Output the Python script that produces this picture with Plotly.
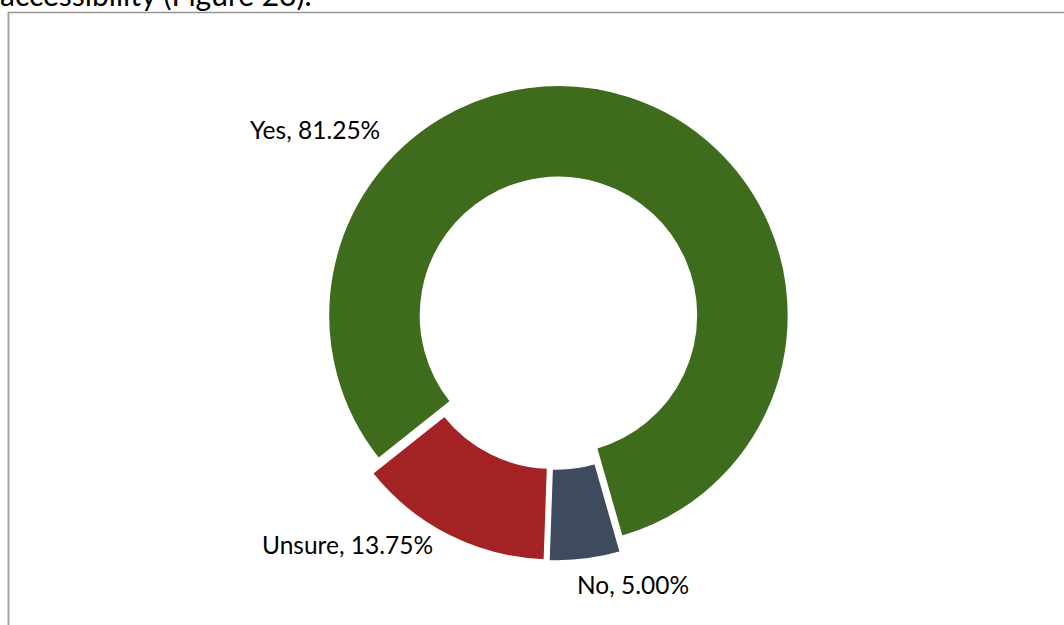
import plotly.graph_objects as go

# Survey responses (share of respondents, %)
categories = ["Yes", "No", "Unsure"]
shares = [81.25, 5.00, 13.75]
slice_colors = ["#3F6C1C", "#3E4A5E", "#A32224"]

W, H = 1064, 625

fig = go.Figure()

fig.add_trace(go.Pie(
    labels=categories,
    values=shares,
    sort=False,
    direction="clockwise",
    rotation=-128.5,
    hole=0.6,
    pull=[0.035, 0.035, 0.035],
    marker=dict(colors=slice_colors, line=dict(color="white", width=1.5)),
    textinfo="none",
    hoverinfo="label+percent",
    showlegend=False,
    domain=dict(x=[318 / W, 794 / W], y=[1 - 561 / H, 1 - 85 / H]),
))

# Category labels with their shares
label_pos = {"Yes": (315, 129), "No": (633, 584), "Unsure": (347, 544)}
for cat, val in zip(categories, shares):
    px, py = label_pos[cat]
    fig.add_annotation(
        x=px / W, y=1 - py / H, xref="paper", yref="paper",
        text=f"{cat}, {val:.2f}%", showarrow=False,
        xanchor="center", yanchor="middle",
        font=dict(family="Lato, Open Sans, sans-serif", size=24.5, color="#000000"),
    )

# Surrounding body text line above the chart frame
fig.add_annotation(
    x=-0.002, y=1 - 14 / H, xref="paper", yref="paper",
    text="accessibility (Figure 23).", showarrow=False,
    xanchor="left", yanchor="bottom",
    font=dict(family="Lato, Open Sans, sans-serif", size=30, color="#000000"),
)

# Chart frame (left and top edges)
fig.add_shape(type="line", xref="paper", yref="paper",
              x0=8.5 / W, x1=8.5 / W, y0=1 - 12 / H, y1=0,
              line=dict(color="#A6A6A6", width=2))
fig.add_shape(type="line", xref="paper", yref="paper",
              x0=8 / W, x1=1, y0=1 - 12.5 / H, y1=1 - 12.5 / H,
              line=dict(color="#959595", width=1.5))

fig.update_layout(
    width=W, height=H, autosize=False,
    margin=dict(l=0, r=0, t=0, b=0),
    paper_bgcolor="white", plot_bgcolor="white",
)

fig.write_html("out.html")
